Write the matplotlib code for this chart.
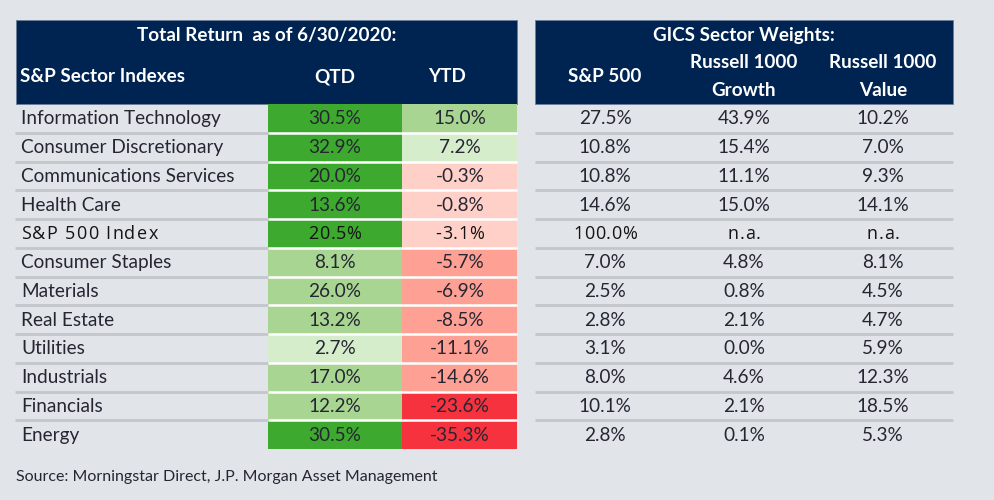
import matplotlib
matplotlib.use("Agg")
import matplotlib.pyplot as plt
from matplotlib.patches import Rectangle
from matplotlib.font_manager import FontProperties
from matplotlib.textpath import TextToPath

# ---------------- data ----------------
sectors = ["Information Technology", "Consumer Discretionary", "Communications Services",
           "Health Care", "S&P 500 Index", "Consumer Staples", "Materials", "Real Estate",
           "Utilities", "Industrials", "Financials", "Energy"]
qtd = [30.5, 32.9, 20.0, 13.6, 20.5, 8.1, 26.0, 13.2, 2.7, 17.0, 12.2, 30.5]
ytd = [15.0, 7.2, -0.3, -0.8, -3.1, -5.7, -6.9, -8.5, -11.1, -14.6, -23.6, -35.3]
sp500_w = [27.5, 10.8, 10.8, 14.6, 100.0, 7.0, 2.5, 2.8, 3.1, 8.0, 10.1, 2.8]
growth_w = [43.9, 15.4, 11.1, 15.0, None, 4.8, 0.8, 2.1, 0.0, 4.6, 2.1, 0.1]
value_w = [10.2, 7.0, 9.3, 14.1, None, 8.1, 4.5, 4.7, 5.9, 12.3, 18.5, 5.3]
qtd_shade = [3, 3, 3, 3, 3, 2, 2, 2, 1, 2, 2, 3]
ytd_shade = [2, 1, -1, -1, -1, -2, -2, -2, -2, -2, -3, -3]
highlight_row = "S&P 500 Index"

title_left = "Total Return  as of 6/30/2020:"
title_right = "GICS Sector Weights:"
source = "Source: Morningstar Direct, J.P. Morgan Asset Management"

# ---------------- styles ----------------
BG = "#E1E5EA"
NAVY = "#002452"
TXT = "#262633"
SEP = "#C3C7CC"
shade_colors = {3: "#3DAA2F", 2: "#A8D692", 1: "#D6EDCC",
                -1: "#FFD0C8", -2: "#FFA094", -3: "#F7323F"}

DPI = 100
fig = plt.figure(figsize=(9.94, 5.0), dpi=DPI, facecolor=BG)
ax = fig.add_axes([0, 0, 1, 1])
ax.set_xlim(0, 994)
ax.set_ylim(500, 0)
ax.axis("off")
ax.set_facecolor(BG)

FONT = "Lato"
fs = 13.7

_t2p = TextToPath()


def spaced_text(x, y, s, ha, prop, spacing, color):
    """Draw text with extra letter spacing (pixels)."""
    widths = []
    for ch in s:
        w, h, d = _t2p.get_text_width_height_descent(ch, prop, ismath=False)
        widths.append(w * DPI / 72.0)
    total = sum(widths) + spacing * (len(s) - 1)
    if ha == "center":
        x0 = x - total / 2
    elif ha == "right":
        x0 = x - total
    else:
        x0 = x
    for ch, w in zip(s, widths):
        ax.text(x0, y, ch, ha="left", va="center", fontproperties=prop, color=color)
        x0 += w + spacing


# header boxes
L0, L1 = 16, 517
R0, R1 = 535, 953
H0, H1 = 20, 104
ax.add_patch(Rectangle((L0, H0), L1 - L0, H1 - H0, facecolor=NAVY, edgecolor="#6d7f98", lw=0.6))
ax.add_patch(Rectangle((R0, H0), R1 - R0, H1 - H0, facecolor=NAVY, edgecolor="#6d7f98", lw=0.6))

hkw = dict(color="white", fontweight="bold", family=FONT, fontsize=13.6, va="center")
ax.text((L0 + L1) / 2, 35, title_left, ha="center", **hkw)
ax.text(20, 77, "S&P Sector Indexes", ha="left", **hkw)
ax.text(335, 77, "QTD", ha="center", **hkw)
ax.text(447, 77, "YTD", ha="center", **hkw)
ax.text(744, 35, title_right, ha="center", **hkw)
ax.text(605, 77, "S&P 500", ha="center", **hkw)
ax.text(744, 63, "Russell 1000", ha="center", **hkw)
ax.text(744, 90, "Growth", ha="center", **hkw)
ax.text(883, 63, "Russell 1000", ha="center", **hkw)
ax.text(883, 90, "Value", ha="center", **hkw)

# rows
top = 104
rh = 28.75
Q0, Q1, Y1 = 268, 402, 517
cols_r = [605, 744, 883]

hl_prop = FontProperties(family="Open Sans", weight=500, size=13.0)


def fmt(v):
    return "n.a." if v is None else f"{v:.1f}%"


for i, name in enumerate(sectors):
    y0 = top + i * rh
    yc = y0 + rh / 2 + 0.5
    ax.add_patch(Rectangle((Q0, y0), Q1 - Q0, rh, facecolor=shade_colors[qtd_shade[i]], lw=0))
    ax.add_patch(Rectangle((Q1, y0), Y1 - Q1, rh, facecolor=shade_colors[ytd_shade[i]], lw=0))
    cells = [(21, "left", name), ((Q0 + Q1) / 2, "center", fmt(qtd[i])),
             (460, "center", fmt(ytd[i]))]
    for cx, vals in zip(cols_r, [sp500_w, growth_w, value_w]):
        cells.append((cx, "center", fmt(vals[i])))
    for j, (cx, ha, s) in enumerate(cells):
        if name == highlight_row:
            spaced_text(cx, yc, s, ha, hl_prop, 1.3 if j == 0 else 0.6, "#141414")
        else:
            ax.text(cx, yc, s, ha=ha, va="center", family=FONT, fontsize=fs, color=TXT)

# separators
for i in range(1, len(sectors)):
    y = top + i * rh
    ax.plot([15, Q0], [y, y], color=SEP, lw=2.0, solid_capstyle="butt")
    ax.plot([Q0, Y1], [y, y], color="white", lw=1.8, solid_capstyle="butt")
    ax.plot([R0, R1], [y, y], color=SEP, lw=2.0, solid_capstyle="butt")

ax.text(16, 477, source, ha="left", va="center", family=FONT, fontsize=11.5, color=TXT)

fig.savefig("out.png", dpi=DPI, facecolor=BG)
